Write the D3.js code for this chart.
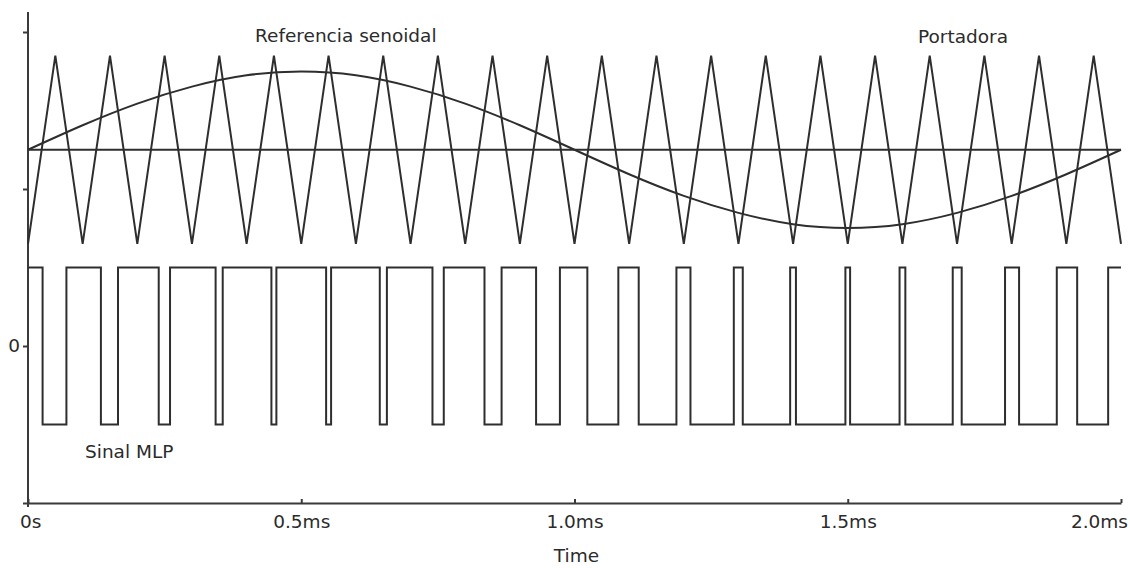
<!DOCTYPE html>
<html>
<head>
<meta charset="utf-8">
<script src="https://cdnjs.cloudflare.com/ajax/libs/d3/7.8.5/d3.min.js"></script>
<style>
    body { margin: 0; background: #fff; }
    svg text { font-family: "DejaVu Sans", sans-serif; font-size: 18.5px; fill: #2b2b2b; }
    .trace { fill: none; stroke: #2e2e2e; stroke-width: 2; stroke-linejoin: miter; }
    .axis path, .axis line { stroke: #3a3a3a; stroke-width: 2; }
</style>
</head>
<body>
<svg id="chart"></svg>
<script>

// Portadora (triangle carrier) vertices, time in ms, normalized level
var carrierTime = [0, 0.05, 0.1, 0.15, 0.2, 0.25, 0.3, 0.35, 0.4, 0.45, 0.5,
                   0.55, 0.6, 0.65, 0.7, 0.75, 0.8, 0.85, 0.9, 0.95, 1.0,
                   1.05, 1.1, 1.15, 1.2, 1.25, 1.3, 1.35, 1.4, 1.45, 1.5,
                   1.55, 1.6, 1.65, 1.7, 1.75, 1.8, 1.85, 1.9, 1.95, 2.0];
var carrierValue = [-1, 1, -1, 1, -1, 1, -1, 1, -1, 1, -1,
                    1, -1, 1, -1, 1, -1, 1, -1, 1, -1,
                    1, -1, 1, -1, 1, -1, 1, -1, 1, -1,
                    1, -1, 1, -1, 1, -1, 1, -1, 1, -1];

// Referencia senoidal, read every 0.1 ms
var sineTime = [0, 0.1, 0.2, 0.3, 0.4, 0.5, 0.6, 0.7, 0.8, 0.9, 1.0,
                1.1, 1.2, 1.3, 1.4, 1.5, 1.6, 1.7, 1.8, 1.9, 2.0];
var sineValue = [0, 0.26, 0.49, 0.67, 0.79, 0.83, 0.79, 0.67, 0.49, 0.26, 0,
                 -0.26, -0.49, -0.67, -0.79, -0.83, -0.79, -0.67, -0.49, -0.26, 0];

// Sinal MLP switching instants (ms); starts high, toggles at each edge
var pwmEdges = [0.0267, 0.0703, 0.1334, 0.1647, 0.2392, 0.2599, 0.3433, 0.3563, 0.4454, 0.4545,
                0.5455, 0.5546, 0.6437, 0.6567, 0.7401, 0.7608, 0.8353, 0.8666, 0.9297, 0.9733,
                1.0235, 1.0802, 1.1175, 1.1865, 1.2122, 1.2915, 1.3079, 1.3946, 1.4052, 1.4957,
                1.5043, 1.5948, 1.6054, 1.6921, 1.7085, 1.7878, 1.8135, 1.8825, 1.9198, 1.9765];

// Axis ticks
var xTicks = [0, 0.5, 1.0, 1.5, 2.0];
var xTickLabels = ['0s', '0.5ms', '1.0ms', '1.5ms', '2.0ms'];
var yTicks = [-1, 0, 1, 2];
var yTickLabels = ['', '0', '', ''];

var width = 1130;
var height = 568;

var svg = d3.select('#chart')
    .attr('width', width)
    .attr('height', height);

// Scales
var x = d3.scaleLinear().domain([0, 2]).range([28, 1121]);
var y = d3.scaleLinear().domain([-1, 2]).range([503, 32]);

// top traces sit above the PWM trace
var yTop = d3.scaleLinear().domain([-1, 1]).range([y(0.65), y(1.85)]);
var yPwm = d3.scaleLinear().domain([-1, 1]).range([y(-0.5), y(0.5)]);

/********** Axes ************/
var xAxis = d3.axisBottom(x)
    .tickValues(xTicks)
    .tickSizeInner(-4)
    .tickSizeOuter(0)
    .tickPadding(12)
    .tickFormat(function(d, i) { return xTickLabels[i]; });

var gx = svg.append('g')
    .attr('class', 'axis')
    .attr('transform', 'translate(0,' + y(-1) + ')')
    .call(xAxis);

gx.selectAll('text')
    .attr('font-family', null)
    .attr('font-size', null);

// keep the end labels inside the picture
gx.selectAll('.tick text').each(function() {
    var t = d3.select(this);
    var w = this.getComputedTextLength();
    var cx = +d3.select(this.parentNode).attr('transform').match(/translate\(([^,]+)/)[1];
    if (cx - w / 2 < 20) t.attr('x', 20 - cx + w / 2);
    if (cx + w / 2 > width - 2) t.attr('x', width - 2 - cx - w / 2);
});

var yAxis = d3.axisLeft(y)
    .tickValues(yTicks)
    .tickSizeInner(5)
    .tickSizeOuter(0)
    .tickPadding(3)
    .tickFormat(function(d, i) { return yTickLabels[i]; });

var gy = svg.append('g')
    .attr('class', 'axis')
    .attr('transform', 'translate(' + x(0) + ',0)')
    .call(yAxis);

gy.selectAll('text')
    .attr('font-family', null)
    .attr('font-size', null);

// y axis line runs a bit above the last tick
gy.select('.domain').remove();
gy.append('line')
    .attr('x1', 0).attr('x2', 0)
    .attr('y1', 12).attr('y2', y(-1) + 4);

/********** Traces ************/
var carrierLine = d3.line()
    .x(function(d, i) { return x(carrierTime[i]); })
    .y(function(d) { return yTop(d); });

svg.append('path')
    .attr('class', 'trace')
    .attr('d', carrierLine(carrierValue));

// zero line of the top traces
svg.append('path')
    .attr('class', 'trace')
    .attr('d', d3.line()([[x(0), yTop(0)], [x(2), yTop(0)]]));

var sineLine = d3.line()
    .curve(d3.curveNatural)
    .x(function(d, i) { return x(sineTime[i]); })
    .y(function(d) { return yTop(d); });

svg.append('path')
    .attr('class', 'trace')
    .attr('d', sineLine(sineValue));

// PWM as step line
var pwmPoints = [[0, 1]];
var level = 1;
pwmEdges.forEach(function(t) {
    level = -level;
    pwmPoints.push([t, level]);
});
pwmPoints.push([2, level]);

var pwmLine = d3.line()
    .curve(d3.curveStepAfter)
    .x(function(d) { return x(d[0]); })
    .y(function(d) { return yPwm(d[1]); });

svg.append('path')
    .attr('class', 'trace')
    .attr('d', pwmLine(pwmPoints));

/********** Labels ************/
svg.append('text').attr('x', 255).attr('y', 42).text('Referencia senoidal');
svg.append('text').attr('x', 918).attr('y', 43).text('Portadora');
svg.append('text').attr('x', 85).attr('y', 458).text('Sinal MLP');

svg.append('text')
    .attr('x', x(1.0) + 2)
    .attr('y', 562)
    .style('text-anchor', 'middle')
    .text('Time');

</script>
</body>
</html>
